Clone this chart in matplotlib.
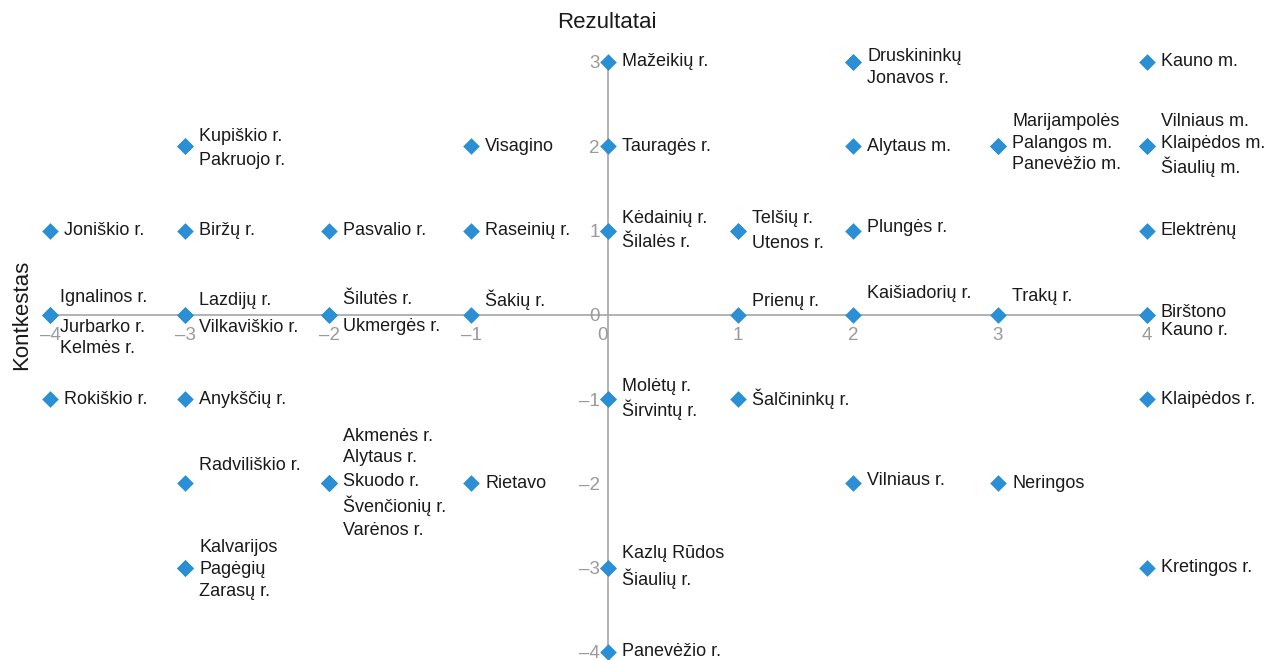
import matplotlib
matplotlib.use("Agg")
import numpy as np
import matplotlib.pyplot as plt
import matplotlib.transforms as mtransforms

plt.rcParams['font.family'] = ['Liberation Sans Narrow', 'Liberation Sans', 'DejaVu Sans']

# savivaldybės ir jų įverčiai
names = [
    "Joniškio r.", "Ignalinos r.", "Jurbarko r.", "Kelmės r.", "Rokiškio r.",
    "Kupiškio r.", "Pakruojo r.", "Biržų r.", "Lazdijų r.", "Vilkaviškio r.",
    "Anykščių r.", "Radviliškio r.", "Kalvarijos", "Pagėgių", "Zarasų r.",
    "Pasvalio r.", "Šilutės r.", "Ukmergės r.", "Akmenės r.", "Alytaus r.",
    "Skuodo r.", "Švenčionių r.", "Varėnos r.", "Visagino", "Raseinių r.",
    "Šakių r.", "Rietavo", "Mažeikių r.", "Tauragės r.", "Kėdainių r.",
    "Šilalės r.", "Molėtų r.", "Širvintų r.", "Kazlų Rūdos", "Šiaulių r.",
    "Panevėžio r.", "Telšių r.", "Utenos r.", "Prienų r.", "Šalčininkų r.",
    "Druskininkų", "Jonavos r.", "Alytaus m.", "Plungės r.", "Kaišiadorių r.",
    "Vilniaus r.", "Marijampolės", "Palangos m.", "Panevėžio m.", "Trakų r.",
    "Neringos", "Kauno m.", "Vilniaus m.", "Klaipėdos m.", "Šiaulių m.",
    "Elektrėnų", "Birštono", "Kauno r.", "Klaipėdos r.", "Kretingos r.",
]
rezultatai = [
    -4, -4, -4, -4, -4,
    -3, -3, -3, -3, -3,
    -3, -3, -3, -3, -3,
    -2, -2, -2, -2, -2,
    -2, -2, -2, -1, -1,
    -1, -1, 0, 0, 0,
    0, 0, 0, 0, 0,
    0, 1, 1, 1, 1,
    2, 2, 2, 2, 2,
    2, 3, 3, 3, 3,
    3, 4, 4, 4, 4,
    4, 4, 4, 4, 4,
]
kontekstas = [
    1, 0, 0, 0, -1,
    2, 2, 1, 0, 0,
    -1, -2, -3, -3, -3,
    1, 0, 0, -2, -2,
    -2, -2, -2, 2, 1,
    0, -2, 3, 2, 1,
    1, -1, -1, -3, -3,
    -4, 1, 1, 0, -1,
    3, 3, 2, 1, 0,
    -2, 2, 2, 2, 0,
    -2, 3, 2, 2, 2,
    1, 0, 0, -1, -3,
]

x_ticks = [-4, -3, -2, -1, 0, 1, 2, 3, 4]
y_ticks = [-4, -3, -2, -1, 0, 1, 2, 3]

# the original x axis spaces its categories unevenly; keep that look
x_tick_px = [50, 185, 329, 471, 608, 738, 853, 998, 1147]
scale_in = [-4.4] + x_ticks + [5.0]
scale_out = [50 - 0.4 * 135] + x_tick_px + [1147 + 149]


def fwd(v):
    return np.interp(v, scale_in, scale_out)


def inv(p):
    return np.interp(p, scale_out, scale_in)


# vertical label shift in pixels (label layout only)
label_dy = {
    "Ignalinos r.": 17, "Jurbarko r.": -13, "Kelmės r.": -34,
    "Kupiškio r.": 10, "Pakruojo r.": -14, "Lazdijų r.": 14, "Vilkaviškio r.": -13,
    "Radviliškio r.": 18, "Kalvarijos": 20, "Pagėgių": -2, "Zarasų r.": -24,
    "Šilutės r.": 15, "Ukmergės r.": -12,
    "Akmenės r.": 47, "Alytaus r.": 26, "Skuodo r.": 2, "Švenčionių r.": -22, "Varėnos r.": -47,
    "Šakių r.": 15, "Kėdainių r.": 12, "Šilalės r.": -12, "Molėtų r.": 13, "Širvintų r.": -11,
    "Kazlų Rūdos": 14, "Šiaulių r.": -11, "Telšių r.": 12, "Utenos r.": -13, "Prienų r.": 13,
    "Druskininkų": 5, "Jonavos r.": -17, "Plungės r.": 3, "Kaišiadorių r.": 21, "Vilniaus r.": 3,
    "Marijampolės": 25, "Palangos m.": 3, "Panevėžio m.": -18, "Trakų r.": 18,
    "Vilniaus m.": 25, "Klaipėdos m.": 3, "Šiaulių m.": -21, "Birštono": 2, "Kauno r.": -16,
}

fig = plt.figure(figsize=(12.73, 6.6), dpi=100)
ax = fig.add_axes([0, 0, 1, 1])
ax.set_xscale('function', functions=(fwd, inv))
ax.set_xlim(inv(0), inv(1273))
ax.set_ylim(-4.095, 3.735)

ax.scatter(rezultatai, kontekstas, marker='D', s=72, color='#2b8fd6', zorder=3, linewidths=0)

for n, x, y in zip(names, rezultatai, kontekstas):
    dx = 10 if x == -4 and y == 0 else 14
    ax.annotate(n, (x, y), xytext=(dx, label_dy.get(n, 0)), textcoords='offset pixels',
                va='center', ha='left', fontsize=13, color='#1a1a1a')

for s in ['top', 'right']:
    ax.spines[s].set_visible(False)
ax.spines['left'].set_position(('data', 0))
ax.spines['bottom'].set_position(('data', 0))
ax.spines['left'].set_bounds(-4, 3)
ax.spines['bottom'].set_bounds(-4, 4)
for s in ['left', 'bottom']:
    ax.spines[s].set_color('#a6a6a6')
    ax.spines[s].set_linewidth(1.2)
    ax.spines[s].set_zorder(1)

ax.set_xticks(x_ticks)
ax.set_yticks(y_ticks)
ax.set_xticklabels([str(v).replace('-', '\u2013') for v in x_ticks])
ax.set_yticklabels([str(v).replace('-', '\u2013') for v in y_ticks])
ax.tick_params(axis='both', length=0, labelsize=13.5, labelcolor='#9a9a9a')
ax.tick_params(axis='x', pad=9)
ax.tick_params(axis='y', pad=6)

# the zero on the x axis sits a little left of the vertical axis
for v, t in zip(x_ticks, ax.get_xticklabels()):
    if v == 0:
        t.set_transform(t.get_transform() + mtransforms.ScaledTranslation(-6 / 100, 0, fig.dpi_scale_trans))

fig.text(607 / 1273, 1 - 22 / 660, "Rezultatai", ha='center', va='center', fontsize=16, color='#1a1a1a')
fig.text(22 / 1273, 1 - 315 / 660, "Kontkestas", ha='center', va='center', rotation=90,
         fontsize=16, color='#1a1a1a')

fig.savefig('out.png', dpi=100)
